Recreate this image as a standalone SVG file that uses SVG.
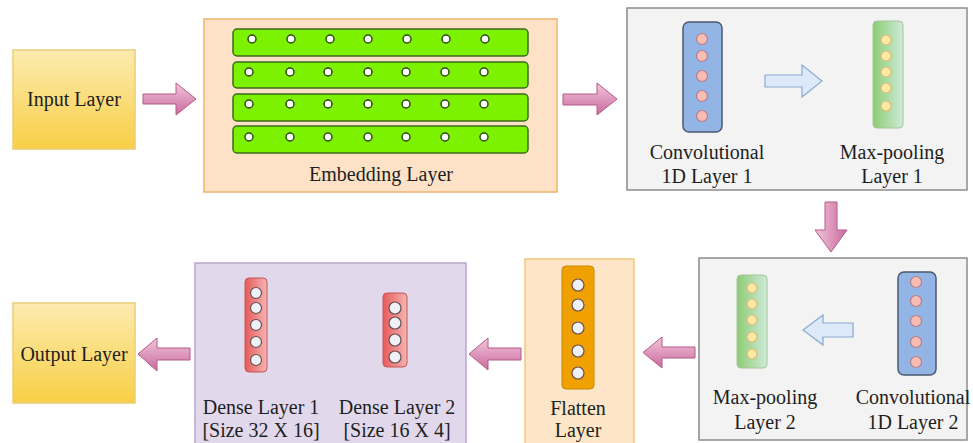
<svg xmlns="http://www.w3.org/2000/svg" width="973" height="443" viewBox="0 0 973 443">
<defs>
<linearGradient id="yel" x1="0" y1="0" x2="0" y2="1"><stop offset="0" stop-color="#fcebb0"/><stop offset="1" stop-color="#f8cf45"/></linearGradient>
<linearGradient id="pinkH" x1="0" y1="0" x2="0" y2="1"><stop offset="0" stop-color="#f2c6dc"/><stop offset="1" stop-color="#c96a9c"/></linearGradient>
<linearGradient id="pinkV" x1="0" y1="0" x2="1" y2="0"><stop offset="0" stop-color="#f2c6dc"/><stop offset="1" stop-color="#c96a9c"/></linearGradient>
<linearGradient id="mp" x1="0" y1="0" x2="1" y2="0"><stop offset="0" stop-color="#8ccc74"/><stop offset="1" stop-color="#cfeada"/></linearGradient>
<linearGradient id="dn" x1="0" y1="0" x2="1" y2="0"><stop offset="0" stop-color="#e65a5a"/><stop offset="1" stop-color="#f5b4b4"/></linearGradient>
</defs>
<style>
text{font-family:"Liberation Serif","Times New Roman",serif;font-size:20px;fill:#1e1e1e;text-anchor:middle}
.yb{fill:url(#yel);stroke:#e9cd78;stroke-width:1.5}
.grey{fill:#f3f3f3;stroke:#8c8c8c;stroke-width:1.5}
.bar{fill:#7cf200;stroke:#3d6b1c;stroke-width:1.5}
.ec{fill:#fff;stroke:#2d4a18;stroke-width:1.5}
.conv{fill:#93b5e6;stroke:#4b5a6e;stroke-width:1.5}
.cc{fill:#f7bcb4;stroke:#b77c84;stroke-width:1.2}
.mp{fill:url(#mp);stroke:#a6c496;stroke-width:1}
.mc{fill:#fde8a6;stroke:#dbbd74;stroke-width:1.2}
.dn{fill:url(#dn);stroke:#c35656;stroke-width:1}
.dc{fill:#eef2f8;stroke:#6d4e4e;stroke-width:1.2}
.pa{stroke:#b45a88;stroke-width:1}
.ba{fill:#dce9f8;stroke:#8ba9d2;stroke-width:1.2}
</style>

<g id="input-layer">
<rect class="yb" x="13" y="50" width="122" height="99"/>
<text x="74" y="106">Input Layer</text>
</g>

<g id="embedding-layer">
<rect x="204" y="19" width="353" height="173" fill="#fde2c8" stroke="#efb46c" stroke-width="1.5"/>
<rect class="bar" x="233" y="29" width="295" height="27" rx="4"/>
<rect class="bar" x="233" y="62" width="295" height="26" rx="4"/>
<rect class="bar" x="233" y="94" width="295" height="27" rx="4"/>
<rect class="bar" x="233" y="126" width="295" height="27" rx="4"/>
<g id="emb-dots">
<circle class="ec" cx="252" cy="39" r="4"/><circle class="ec" cx="291" cy="39" r="4"/><circle class="ec" cx="330" cy="39" r="4"/><circle class="ec" cx="368" cy="39" r="4"/><circle class="ec" cx="407" cy="39" r="4"/><circle class="ec" cx="446" cy="39" r="4"/><circle class="ec" cx="485" cy="39" r="4"/>
<circle class="ec" cx="249" cy="72" r="4"/><circle class="ec" cx="290" cy="72" r="4"/><circle class="ec" cx="328" cy="72" r="4"/><circle class="ec" cx="368" cy="72" r="4"/><circle class="ec" cx="406" cy="72" r="4"/><circle class="ec" cx="445" cy="72" r="4"/><circle class="ec" cx="484" cy="72" r="4"/>
<circle class="ec" cx="249" cy="104" r="4"/><circle class="ec" cx="290" cy="104" r="4"/><circle class="ec" cx="328" cy="104" r="4"/><circle class="ec" cx="368" cy="104" r="4"/><circle class="ec" cx="406" cy="104" r="4"/><circle class="ec" cx="445" cy="104" r="4"/><circle class="ec" cx="484" cy="104" r="4"/>
<circle class="ec" cx="249" cy="137" r="4"/><circle class="ec" cx="290" cy="137" r="4"/><circle class="ec" cx="328" cy="137" r="4"/><circle class="ec" cx="368" cy="137" r="4"/><circle class="ec" cx="406" cy="137" r="4"/><circle class="ec" cx="445" cy="137" r="4"/><circle class="ec" cx="484" cy="137" r="4"/>
</g>
<text x="381" y="181">Embedding Layer</text>
</g>

<g id="conv-block-1">
<rect class="grey" x="627" y="8" width="340" height="182"/>
<g id="conv1">
<rect class="conv" x="683" y="22" width="39" height="110" rx="6"/>
<circle class="cc" cx="702" cy="39" r="5.5"/><circle class="cc" cx="702" cy="56" r="5.5"/><circle class="cc" cx="702" cy="76" r="5.5"/><circle class="cc" cx="702" cy="96" r="5.5"/><circle class="cc" cx="702" cy="116" r="5.5"/>
<text x="707" y="159">Convolutional</text>
<text x="707" y="183">1D Layer 1</text>
</g>
<g id="maxpool1">
<rect class="mp" x="873" y="21" width="30" height="107" rx="4"/>
<circle class="mc" cx="886" cy="40" r="5"/><circle class="mc" cx="886" cy="56" r="5"/><circle class="mc" cx="886" cy="72" r="5"/><circle class="mc" cx="886" cy="88" r="5"/><circle class="mc" cx="886" cy="106" r="5"/>
<text x="892" y="159">Max-pooling</text>
<text x="892" y="183">Layer 1</text>
</g>
</g>

<g id="conv-block-2">
<rect class="grey" x="699" y="258" width="268" height="182"/>
<g id="maxpool2">
<rect class="mp" x="737" y="275" width="30" height="93" rx="4"/>
<circle class="mc" cx="752" cy="288" r="5"/><circle class="mc" cx="752" cy="304" r="5"/><circle class="mc" cx="752" cy="320" r="5"/><circle class="mc" cx="752" cy="337" r="5"/><circle class="mc" cx="752" cy="354" r="5"/>
<text x="765" y="404">Max-pooling</text>
<text x="765" y="429">Layer 2</text>
</g>
<g id="conv2">
<rect class="conv" x="898" y="272" width="38" height="103" rx="6"/>
<circle class="cc" cx="916" cy="282" r="5.5"/><circle class="cc" cx="916" cy="301" r="5.5"/><circle class="cc" cx="916" cy="321" r="5.5"/><circle class="cc" cx="916" cy="342" r="5.5"/><circle class="cc" cx="916" cy="362" r="5.5"/>
<text x="913" y="404">Convolutional</text>
<text x="913" y="429">1D Layer 2</text>
</g>
</g>

<g id="flatten-layer">
<rect x="525" y="259" width="109" height="190" fill="#fde6c8" stroke="#efc97c" stroke-width="1.5"/>
<rect x="562" y="266" width="32" height="123" rx="4" fill="#f0a100" stroke="#c98600" stroke-width="1"/>
<circle class="dc" cx="578" cy="285" r="6"/><circle class="dc" cx="578" cy="305" r="6"/><circle class="dc" cx="578" cy="328" r="6"/><circle class="dc" cx="578" cy="351" r="6"/><circle class="dc" cx="578" cy="373" r="6"/>
<text x="578" y="415">Flatten</text>
<text x="578" y="437">Layer</text>
</g>

<g id="dense-block">
<rect x="195" y="263" width="271" height="186" fill="#e2d8ec" stroke="#b7a7cb" stroke-width="1.5"/>
<g id="dense1">
<rect class="dn" x="245" y="278" width="22" height="94" rx="4"/>
<circle class="dc" cx="256" cy="293" r="5.5"/><circle class="dc" cx="256" cy="308" r="5.5"/><circle class="dc" cx="256" cy="325" r="5.5"/><circle class="dc" cx="256" cy="342" r="5.5"/><circle class="dc" cx="256" cy="360" r="5.5"/>
<text x="261" y="414">Dense Layer 1</text>
<text x="261" y="437">[Size 32 X 16]</text>
</g>
<g id="dense2">
<rect class="dn" x="383" y="293" width="24" height="74" rx="4"/>
<circle class="dc" cx="395" cy="308" r="6"/><circle class="dc" cx="395" cy="323" r="6"/><circle class="dc" cx="395" cy="340" r="6"/><circle class="dc" cx="395" cy="357" r="6"/>
<text x="397" y="414">Dense Layer 2</text>
<text x="397" y="437">[Size 16 X 4]</text>
</g>
</g>

<g id="output-layer">
<rect class="yb" x="13" y="303" width="122" height="100"/>
<text x="74" y="361">Output Layer</text>
</g>

<g id="connectors">
<path class="pa" fill="url(#pinkH)" d="M143,94 H176 V83 L196,99 L176,115 V104 H143 Z"/>
<path class="pa" fill="url(#pinkH)" d="M563,94 H597 V83 L617,99 L597,115 V105 H563 Z"/>
<path class="ba" d="M765,75 H802 V65 L822,81 L802,97 V87 H765 Z"/>
<path class="pa" fill="url(#pinkV)" d="M825,202 H837 V230 H847 L831,252 L815,230 H825 Z"/>
<path class="ba" d="M853,323 H823 V315 L803,330 L823,345 V337 H853 Z"/>
<path class="pa" fill="url(#pinkH)" d="M695,347 H662 V337 L643,352.5 L662,368 V358 H695 Z"/>
<path class="pa" fill="url(#pinkH)" d="M521,348 H488 V338 L469,354 L488,370 V360 H521 Z"/>
<path class="pa" fill="url(#pinkH)" d="M190,348 H157 V338 L138,354 L157,371 V360 H190 Z"/>
</g>
</svg>
